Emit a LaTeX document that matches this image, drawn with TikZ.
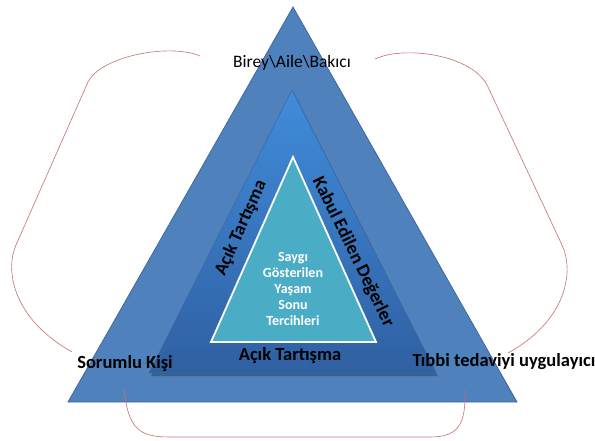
\documentclass[tikz,border=0pt]{standalone}
\usepackage{fontspec}
\setmainfont{Carlito}
\usetikzlibrary{positioning}
\definecolor{outerblue}{RGB}{79,129,189}
\definecolor{outerline}{RGB}{62,104,158}
\definecolor{midtop}{RGB}{64,140,218}
\definecolor{midbot}{RGB}{47,96,162}
\definecolor{innerteal}{RGB}{75,172,198}
\definecolor{curvered}{RGB}{200,110,110}
\tikzset{
    outertri/.style = {fill=outerblue, draw=outerline, line width=0.8pt},
    midtri/.style = {top color=midtop, bottom color=midbot, draw=outerline, line width=0.5pt},
    innertri/.style = {fill=innerteal, draw=white, line width=1.8pt},
    lbln/.style = {font=\fontsize{17.5}{20}\selectfont, text=black, inner sep=1pt},
    lblb/.style = {font=\bfseries\fontsize{18.5}{20}\selectfont, text=black, inner sep=1pt},
    lblw/.style = {font=\bfseries\fontsize{14}{16}\selectfont, text=white, align=center},
    curve/.style = {draw=curvered, line width=0.6pt}, % red round arcs
}
\begin{document}
\begin{tikzpicture}[x=1pt,y=-1pt]
  \useasboundingbox (0,0) rectangle (595,441);

  % triangles
  \coordinate (oa) at (293,7);
  \coordinate (ol) at (68,402);
  \coordinate (or) at (517,402);
  \coordinate (ma) at (292,90);
  \coordinate (ml) at (149,373);
  \coordinate (mr) at (436,373);
  \coordinate (ia) at (293,157);
  \coordinate (il) at (211,342);
  \coordinate (ir) at (376,342);

  \path[outertri] (oa) -- (or) -- (ol) -- cycle;
  \fill[black,opacity=0.25] ([shift={(2,3)}]ma) -- ([shift={(2,3)}]mr) -- ([shift={(2,3)}]ml) -- cycle;
  \path[midtri] (ma) -- (mr) -- (ml) -- cycle;
  \path[innertri] (ia) -- (ir) -- (il) -- cycle;

  % labels
  \node[lbln] (birey) at (292,63) {Birey\textbackslash Aile\textbackslash Bakıcı};
  \node[lblb] (sorumlu) at (125,364) {Sorumlu Kişi};
  \node[lblb] (tibbi) at (504,362) {Tıbbi tedaviyi uygulayıcı};
  \node[lblb] (acikalt) at (290,356) {Açık Tartışma};
  \node[lblb, rotate=66] (acikyan) at (241,228) {Açık Tartışma};
  \node[lblb, rotate=-64] (kabul) at (353,252) {Kabul Edilen Değerler};
  \node[lblw] (saygi) at (293,289) {Saygı\\Gösterilen\\Yaşam\\Sonu\\Tercihleri};

  % arcs
  \coordinate (l1) at (200,56);
  \coordinate (l2) at (72,352);
  \coordinate (r1) at (375,59);
  \coordinate (r2) at (508,353);
  \coordinate (b1) at (124,388);
  \coordinate (b2) at (465,390);
  \draw[curve] (l1) .. controls (170,43) and (101,56) .. (88,82) -- (16,245)
    .. controls (5,270) and (12,318) .. (l2);
  \draw[curve] (r1) .. controls (405,45) and (474,55) .. (488,87) -- (562,245)
    .. controls (574,270) and (568,320) .. (r2);
  \draw[curve] (b1) .. controls (128,430) and (140,437) .. (170,437) -- (430,437)
    .. controls (458,437) and (466,425) .. (b2);
\end{tikzpicture}
\end{document}
